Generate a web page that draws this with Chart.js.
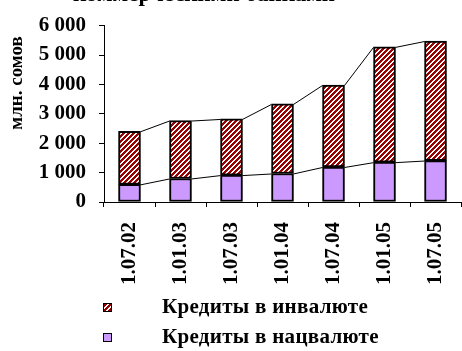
<!DOCTYPE html>
<html>
<head>
<meta charset="utf-8">
<script src="https://cdn.jsdelivr.net/npm/chart.js@4.4.0/dist/chart.umd.min.js"></script>
<style>
  html, body { margin:0; padding:0; background:#fff; overflow:hidden; width:462px; height:351px; }
  #wrap { position:absolute; left:0; top:0; width:476px; height:300px; }
  .leg { position:absolute; left:0; font-family:"Liberation Serif", serif; font-weight:bold; font-size:21px; letter-spacing:0.3px; color:#000; white-space:nowrap; }
  .box { position:absolute; left:103px; width:7px; height:7px; border:1px solid #000; }
  .txt { position:absolute; left:162px; }
</style>
</head>
<body>
<div id="wrap"><canvas id="c" width="476" height="300"></canvas></div>
<div class="leg">
  <div class="box" id="boxInv" style="top:303px;"></div>
  <div class="txt" style="top:294px;">Кредиты в инвалюте</div>
  <div class="box" style="top:333px; background:#CC99FF;"></div>
  <div class="txt" style="top:324px;">Кредиты в нацвалюте</div>
</div>
<script>
// ---- data ----
const categories = ['1.07.02','1.01.03','1.07.03','1.01.04','1.07.04','1.01.05','1.07.05'];
const creditsNational = [600, 800, 915, 970, 1190, 1355, 1410];
const creditsForeign = [1805, 1970, 1910, 2365, 2790, 3920, 4065];
const seriesNames = ['Кредиты в инвалюте', 'Кредиты в нацвалюте'];
const yTicks = [0, 1000, 2000, 3000, 4000, 5000, 6000];
const titleText = 'коммерческими банками';
const yTitle = 'млн. сомов';

// ---- hatch pattern ----
function makePattern(red) {
  const c = document.createElement('canvas');
  c.width = 5; c.height = 5;
  const x = c.getContext('2d');
  x.fillStyle = '#fff'; x.fillRect(0,0,5,5);
  x.fillStyle = red;
  for (let i = 0; i < 5; i++) for (let j = 0; j < 5; j++) {
    if (((i + j) % 5) < 3) x.fillRect(i, j, 1, 1);
  }
  return c;
}
const patCanvas = makePattern('#990000');
const ctx0 = document.getElementById('c').getContext('2d');
const hatch = ctx0.createPattern(patCanvas, 'repeat');
document.getElementById('boxInv').style.backgroundImage = 'url(' + patCanvas.toDataURL() + ')';

const FONT = '"Liberation Serif", "Times New Roman", serif';

const seriesLines = {
  id: 'seriesLines',
  afterDatasetsDraw(chart) {
    const ctx = chart.ctx;
    ctx.save();
    ctx.strokeStyle = '#000';
    ctx.lineWidth = 1;
    chart.data.datasets.forEach((ds, di) => {
      const els = chart.getDatasetMeta(di).data;
      for (let j = 0; j < els.length - 1; j++) {
        const a = els[j], b = els[j + 1];
        ctx.beginPath();
        ctx.moveTo(a.x + a.width / 2, a.y + 0.5);
        ctx.lineTo(b.x - b.width / 2, b.y + 0.5);
        ctx.stroke();
      }
    });
    ctx.restore();
  }
};

const texts = {
  id: 'texts',
  afterDraw(chart) {
    const ctx = chart.ctx;
    ctx.save();
    ctx.fillStyle = '#000';
    ctx.font = 'bold 23px ' + FONT;
    ctx.textAlign = 'center';
    ctx.textBaseline = 'alphabetic';
    ctx.fillText(titleText, 204, 1);
    ctx.translate(17, 83);
    ctx.rotate(-Math.PI / 2);
    ctx.font = 'bold 19px ' + FONT;
    ctx.textBaseline = 'middle';
    ctx.fillText(yTitle, 0, 0);
    ctx.restore();
  }
};

new Chart(document.getElementById('c'), {
  type: 'bar',
  data: {
    labels: categories,
    datasets: [
      { label: seriesNames[1], data: creditsNational, backgroundColor: '#CC99FF', borderColor: '#000', borderWidth: 2, borderSkipped: false, barThickness: 22 },
      { label: seriesNames[0], data: creditsForeign, backgroundColor: hatch, borderColor: '#000', borderWidth: 2, borderSkipped: false, barThickness: 22 }
    ]
  },
  options: {
    responsive: false,
    animation: false,
    devicePixelRatio: 1,
    layout: { padding: { top: 20, right: 4, left: 0, bottom: 0 } },
    plugins: { legend: { display: false }, title: { display: false }, tooltip: { enabled: false } },
    scales: {
      x: {
        stacked: true,
        grid: { display: true, drawOnChartArea: false, tickLength: 5, color: '#000', offset: true },
        border: { display: true, color: '#000', width: 1 },
        ticks: { color: '#000', font: { family: FONT, size: 21, weight: 'bold' }, minRotation: 90, maxRotation: 90, padding: 15 },
        afterFit(s) { s.height = 98; }
      },
      y: {
        stacked: true,
        min: 0, max: 6000,
        afterBuildTicks(s) { s.ticks = yTicks.map(v => ({ value: v })); },
        grid: { display: true, drawOnChartArea: false, tickLength: 5, color: '#000' },
        border: { display: true, color: '#000', width: 1 },
        ticks: {
          color: '#000', padding: 13,
          font: { family: FONT, size: 21, weight: 'bold' },
          callback: v => String(v).replace(/\B(?=(\d{3})+(?!\d))/g, ' ')
        },
        afterFit(s) { s.width = 104; }
      }
    }
  },
  plugins: [seriesLines, texts]
});
</script>
</body>
</html>
